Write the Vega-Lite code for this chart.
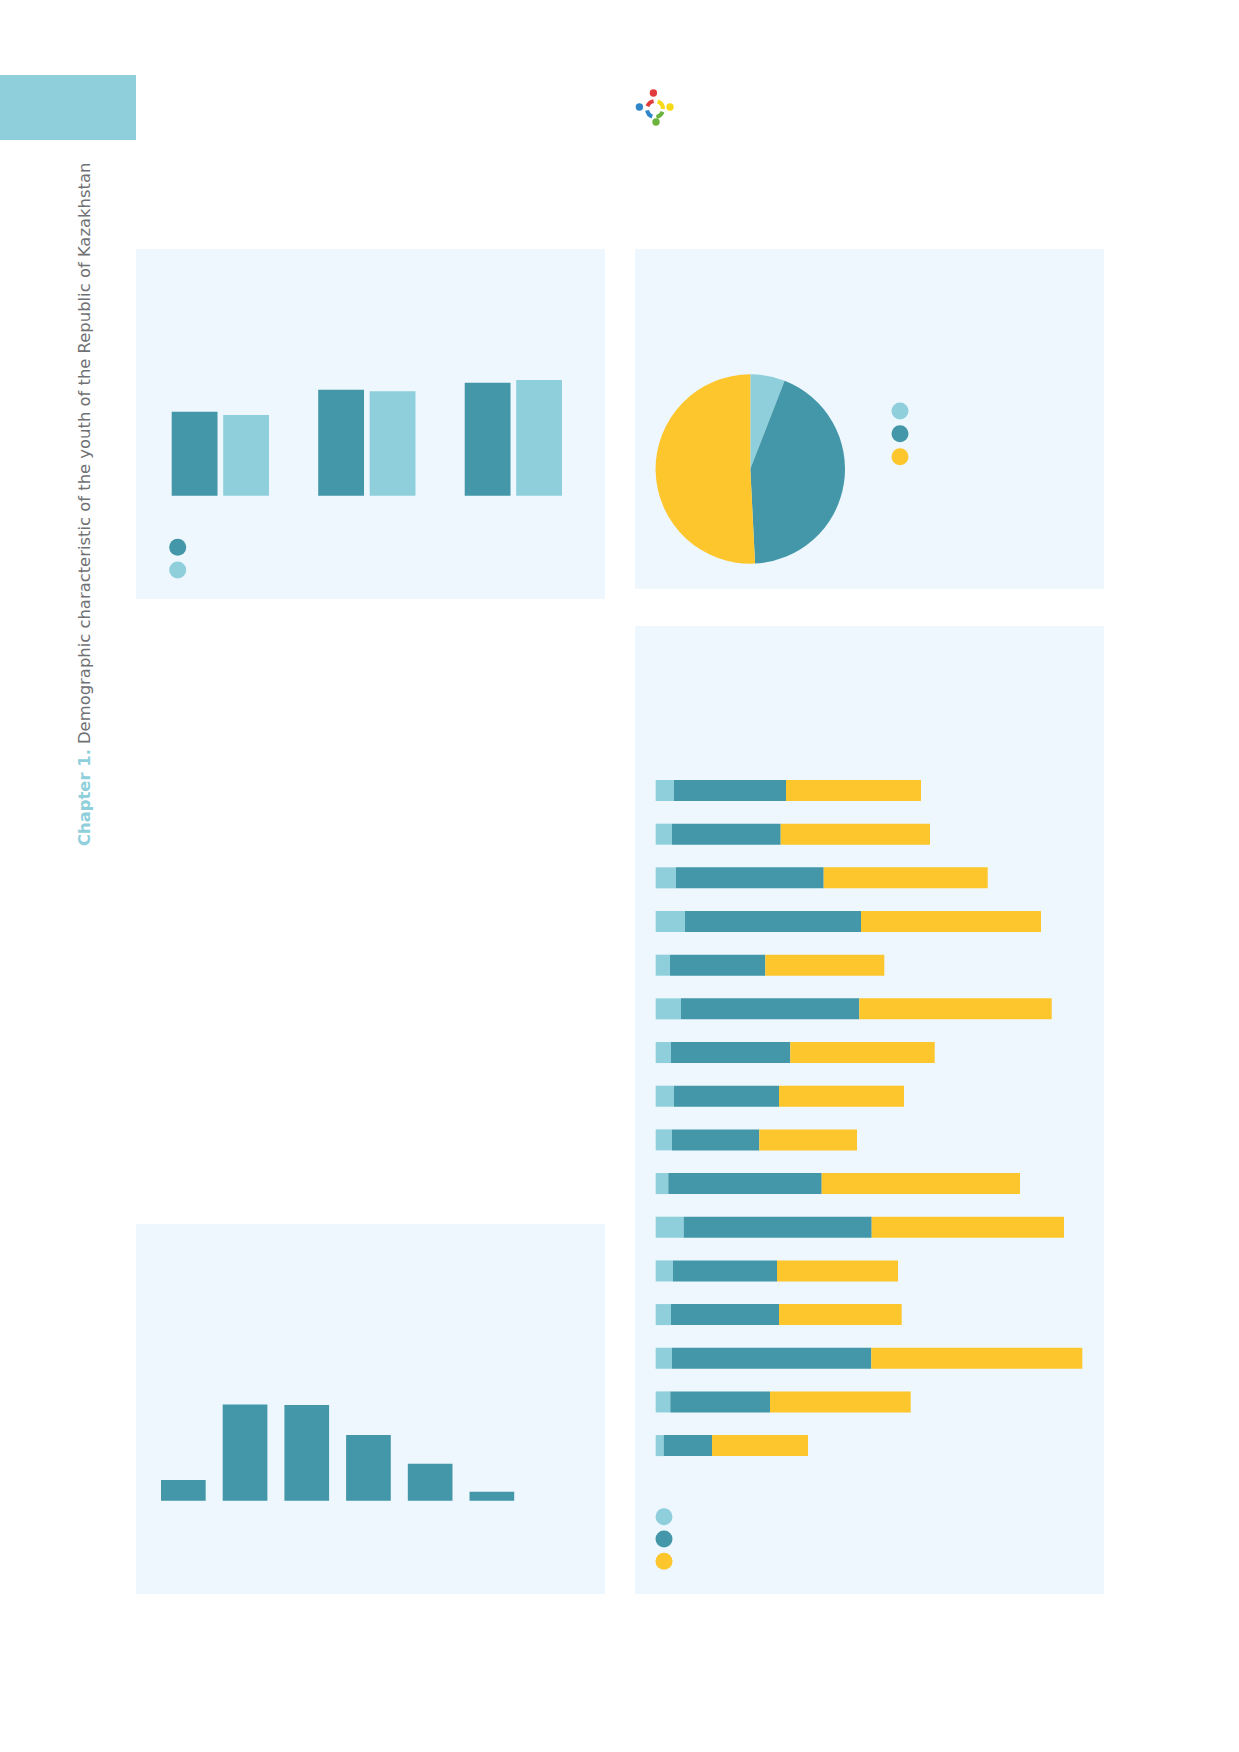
{
  "$schema": "https://vega.github.io/schema/vega-lite/v6.json",
  "background": "white",
  "padding": 0,
  "spacing": 0,
  "config": {"view": {"stroke": null}, "font": "Open Sans"},
  "resolve": {"scale": {"color": "independent"}, "legend": {"color": "independent"}},
  "hconcat": [
    {
      "spacing": 0,
      "vconcat": [
        {"width": 136, "height": 75, "data": {"values": [{}]}, "mark": "text", "encoding": {"text": {"value": ""}}},
        {"width": 136, "height": 65, "view": {"fill": "#8ECFDB"}, "data": {"values": [{}]}, "mark": "text", "encoding": {"text": {"value": ""}}},
        {
          "width": 136, "height": 1500,
          "layer": [
            {
              "data": {"values": [{"label": "Chapter 1."}]},
              "mark": {"type": "text", "angle": 270, "align": "left", "baseline": "alphabetic", "font": "DejaVu Sans", "fontSize": 16.4, "fontWeight": "bold", "color": "#8ECFDB"},
              "encoding": {"text": {"field": "label"}, "x": {"value": 90}, "y": {"value": 706}}
            },
            {
              "data": {"values": [{"label": "Demographic characteristic of the youth of the Republic of Kazakhstan"}]},
              "mark": {"type": "text", "angle": 270, "align": "left", "baseline": "alphabetic", "font": "DejaVu Sans", "fontSize": 16.4, "color": "#707174"},
              "encoding": {"text": {"field": "label"}, "x": {"value": 90}, "y": {"value": 604}}
            }
          ]
        }
      ]
    },
    {
      "spacing": 30,
      "resolve": {"scale": {"color": "independent"}, "legend": {"color": "independent"}},
      "hconcat": [
        {
          "spacing": 0,
          "resolve": {"scale": {"color": "independent"}, "legend": {"color": "independent"}},
          "vconcat": [
            {"width": 469, "height": 249, "data": {"values": [{}]}, "mark": "text", "encoding": {"text": {"value": ""}}},
            {
              "width": 469, "height": 350,
              "view": {"fill": "#EDF7FD"},
              "data": {"values": [
                {"group": "1", "series": "Series A", "value": 84.0},
                {"group": "1", "series": "Series B", "value": 80.7},
                {"group": "2", "series": "Series A", "value": 106.0},
                {"group": "2", "series": "Series B", "value": 104.4},
                {"group": "3", "series": "Series A", "value": 113.0},
                {"group": "3", "series": "Series B", "value": 115.7}
              ]},
              "mark": "bar",
              "encoding": {
                "x": {"field": "group", "type": "nominal", "sort": null, "axis": null,
                  "scale": {"range": [35.7, 426], "paddingInner": 0.336, "paddingOuter": 0}},
                "xOffset": {"field": "series", "type": "nominal", "sort": ["Series A", "Series B"],
                  "scale": {"paddingInner": 0.11, "paddingOuter": 0}},
                "y": {"field": "value", "type": "quantitative", "axis": null,
                  "scale": {"domain": [0, 246.7], "range": [246.7, 0]}},
                "color": {"field": "series", "type": "nominal",
                  "scale": {"domain": ["Series A", "Series B"], "range": ["#4397A8", "#8ECFDB"]},
                  "legend": {"orient": "none", "legendX": 33.2, "legendY": 289.8, "title": null,
                    "symbolType": "circle", "symbolSize": 289, "symbolStrokeWidth": 0, "symbolOffset": 0,
                    "labelExpr": "''", "padding": 0, "rowPadding": 5.7}}
              }
            },
            {"width": 469, "height": 624.3, "data": {"values": [{}]}, "mark": "text", "encoding": {"text": {"value": ""}}},
            {
              "width": 469, "height": 370,
              "view": {"fill": "#EDF7FD"},
              "data": {"values": [
                {"bin": "1", "value": 20.7},
                {"bin": "2", "value": 96.3},
                {"bin": "3", "value": 95.7},
                {"bin": "4", "value": 65.7},
                {"bin": "5", "value": 37.0},
                {"bin": "6", "value": 9.0}
              ]},
              "mark": {"type": "bar", "color": "#4397A8"},
              "encoding": {
                "x": {"field": "bin", "type": "nominal", "sort": null, "axis": null,
                  "scale": {"range": [25, 378.2], "paddingInner": 0.276, "paddingOuter": 0}},
                "y": {"field": "value", "type": "quantitative", "axis": null,
                  "scale": {"domain": [0, 276.7], "range": [276.7, 0]}}
              }
            }
          ]
        },
        {
          "spacing": 0,
          "resolve": {"scale": {"color": "independent"}, "legend": {"color": "independent"}},
          "vconcat": [
            {"width": 469, "height": 89, "data": {"values": [{}]}, "mark": "text", "encoding": {"text": {"value": ""}}},
            {
              "width": 40, "height": 40,
              "layer": [
                {
                  "data": {"values": [
                    {"part": "red", "t1": 5.06, "t2": 6.11},
                    {"part": "yellow", "t1": 0.35, "t2": 1.57},
                    {"part": "green", "t1": 1.92, "t2": 2.97},
                    {"part": "blue", "t1": 3.49, "t2": 4.54}
                  ]},
                  "mark": {"type": "arc", "innerRadius": 6, "outerRadius": 10},
                  "encoding": {
                    "theta": {"field": "t1", "type": "quantitative", "scale": null, "stack": null},
                    "theta2": {"field": "t2"},
                    "x": {"value": 20}, "y": {"value": 20},
                    "color": {"field": "part", "type": "nominal", "legend": null,
                      "scale": {"domain": ["red", "yellow", "green", "blue"], "range": ["#E23B3B", "#F7D917", "#6DB33F", "#2E86C8"]}}
                  }
                },
                {
                  "data": {"values": [
                    {"part": "red", "px": -0.08, "py": 0.8},
                    {"part": "yellow", "px": 0.75, "py": 0.1},
                    {"part": "green", "px": 0.05, "py": -0.65},
                    {"part": "blue", "px": -0.78, "py": 0.1}
                  ]},
                  "mark": {"type": "circle", "size": 55, "opacity": 1},
                  "encoding": {
                    "x": {"field": "px", "type": "quantitative", "axis": null, "scale": {"domain": [-1, 1]}},
                    "y": {"field": "py", "type": "quantitative", "axis": null, "scale": {"domain": [-1, 1]}},
                    "color": {"field": "part", "type": "nominal", "legend": null,
                      "scale": {"domain": ["red", "yellow", "green", "blue"], "range": ["#E23B3B", "#F7D917", "#6DB33F", "#2E86C8"]}}
                  }
                }
              ]
            },
            {"width": 469, "height": 120, "data": {"values": [{}]}, "mark": "text", "encoding": {"text": {"value": ""}}},
            {
              "width": 469, "height": 339.7,
              "view": {"fill": "#EDF7FD"},
              "data": {"values": [
                {"age": "14-15", "share": 5.9},
                {"age": "16-22", "share": 43.3},
                {"age": "23-28", "share": 50.8}
              ]},
              "mark": {"type": "arc", "outerRadius": 94.7},
              "encoding": {
                "theta": {"field": "share", "type": "quantitative", "stack": true},
                "order": {"field": "age", "type": "ordinal"},
                "x": {"value": 115.3}, "y": {"value": 220},
                "color": {"field": "age", "type": "nominal",
                  "scale": {"domain": ["14-15", "16-22", "23-28"], "range": ["#8ECFDB", "#4397A8", "#FDC62C"]},
                  "legend": {"orient": "none", "legendX": 256.5, "legendY": 153.5, "title": null,
                    "symbolType": "circle", "symbolSize": 289, "symbolStrokeWidth": 0, "symbolOffset": 0,
                    "labelExpr": "''", "padding": 0, "rowPadding": 5.85}}
              }
            },
            {"width": 469, "height": 36.3, "data": {"values": [{}]}, "mark": "text", "encoding": {"text": {"value": ""}}},
            {
              "width": 469, "height": 968,
              "view": {"fill": "#EDF7FD"},
              "data": {"values": [
                {"region": "Akmola", "14-15": 18.3, "16-22": 112.0, "23-28": 135.0},
                {"region": "Aktobe", "14-15": 16.3, "16-22": 108.7, "23-28": 149.3},
                {"region": "Almaty region", "14-15": 20.3, "16-22": 147.7, "23-28": 164.0},
                {"region": "Atyrau", "14-15": 29.3, "16-22": 176.0, "23-28": 180.0},
                {"region": "West Kazakhstan", "14-15": 14.3, "16-22": 95.3, "23-28": 119.0},
                {"region": "Zhambyl", "14-15": 25.3, "16-22": 178.3, "23-28": 192.4},
                {"region": "Karaganda", "14-15": 15.3, "16-22": 119.3, "23-28": 144.4},
                {"region": "Kostanay", "14-15": 18.3, "16-22": 105.0, "23-28": 125.0},
                {"region": "Kyzylorda", "14-15": 16.3, "16-22": 87.3, "23-28": 97.7},
                {"region": "Mangystau", "14-15": 12.6, "16-22": 153.4, "23-28": 198.3},
                {"region": "South Kazakhstan", "14-15": 28.0, "16-22": 188.0, "23-28": 192.3},
                {"region": "Pavlodar", "14-15": 17.3, "16-22": 104.0, "23-28": 121.0},
                {"region": "North Kazakhstan", "14-15": 15.3, "16-22": 108.0, "23-28": 122.7},
                {"region": "East Kazakhstan", "14-15": 16.3, "16-22": 199.3, "23-28": 211.0},
                {"region": "Astana city", "14-15": 14.6, "16-22": 99.7, "23-28": 140.7},
                {"region": "Almaty city", "14-15": 8.0, "16-22": 48.3, "23-28": 96.0}
              ]},
              "transform": [{"fold": ["14-15", "16-22", "23-28"], "as": ["age", "value"]}],
              "mark": "bar",
              "encoding": {
                "y": {"field": "region", "type": "nominal", "sort": null, "axis": null,
                  "scale": {"range": [154, 830.1], "paddingInner": 0.519, "paddingOuter": 0}},
                "x": {"field": "value", "type": "quantitative", "axis": null, "stack": "zero",
                  "scale": {"domain": [0, 448.3], "range": [20.7, 469]}},
                "order": {"field": "age", "type": "ordinal"},
                "color": {"field": "age", "type": "nominal",
                  "scale": {"domain": ["14-15", "16-22", "23-28"], "range": ["#8ECFDB", "#4397A8", "#FDC62C"]},
                  "legend": {"orient": "none", "legendX": 20.5, "legendY": 882.2, "title": null,
                    "symbolType": "circle", "symbolSize": 289, "symbolStrokeWidth": 0, "symbolOffset": 0,
                    "labelExpr": "''", "padding": 0, "rowPadding": 5.3}}
              }
            }
          ]
        }
      ]
    }
  ]
}
